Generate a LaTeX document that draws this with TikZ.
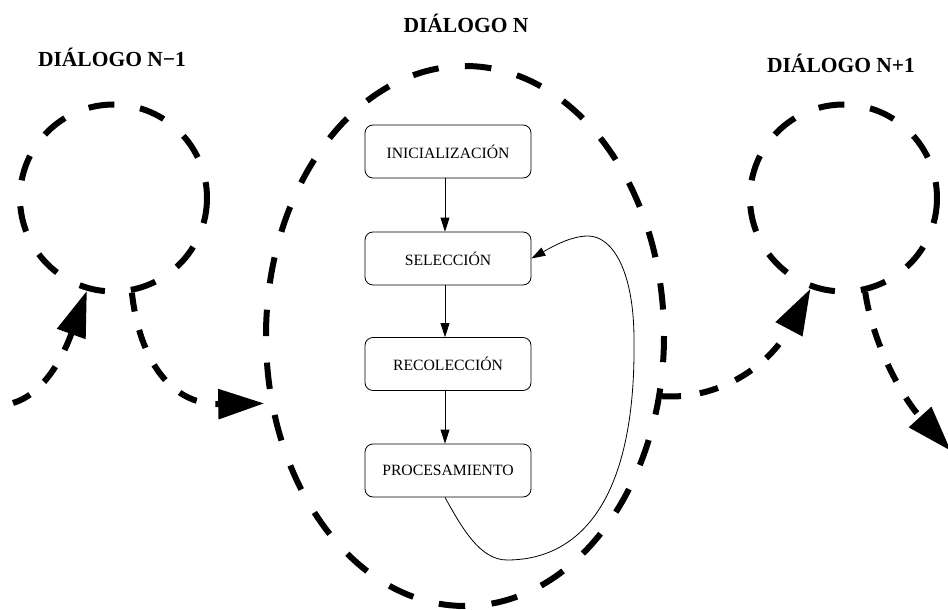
\documentclass[tikz,border=0pt]{standalone}
\usepackage{fontspec}
\setmainfont{Liberation Serif}
\usetikzlibrary{arrows.meta,shapes.geometric}

\begin{document}
\begin{tikzpicture}[x=1pt,y=-1pt,
  title/.style={font=\fontsize{21.5}{25}\selectfont\bfseries, inner sep=0pt, anchor=base},
  stage/.style={draw, rounded corners=8pt, minimum width=166pt, minimum height=53pt,
    inner sep=0pt, line width=0.8pt, font=\fontsize{15.7}{18}\selectfont},
  flow/.style={line width=0.8pt, -{Triangle[length=14pt,width=9pt]}},
  ring/.style={draw, circle, line width=6pt, minimum size=187pt, inner sep=0pt,
    dash pattern=on 26pt off 26pt, dash phase=10pt},
  bigring/.style={draw, ellipse, line width=6pt, minimum width=398pt, minimum height=540pt,
    inner sep=0pt, dash pattern=on 26.47pt off 26.47pt, dash phase=26.47pt},
  handoff/.style={line width=6pt, dash pattern=on 19pt off 19pt,
    -{Triangle[length=46pt,width=29pt]}}
]
\clip (0,0) rectangle (948,610);

% titles
\node[title] (tN)    at (466,33)   {DIÁLOGO N};
\node[title] (tPrev) at (112,66.5) {DIÁLOGO N−1};
\node[title] (tNext) at (841,73)   {DIÁLOGO N+1};

% dialogue rings
\node[ring]    (prev) at (113.5,198) {};
\node[ring]    (next) at (843.5,198) {};
\node[bigring] (cur)  at (465,336)   {};

% stages of the current dialogue
\node[stage] (ini) at (448,151.5) {INICIALIZACIÓN};
\node[stage] (sel) at (448,258.5) {SELECCIÓN};
\node[stage] (rec) at (448,364)   {RECOLECCIÓN};
\node[stage] (pro) at (448,470.5) {PROCESAMIENTO};

\draw[flow] ([xshift=-3pt]ini.south) -- ([xshift=-3pt]sel.north);
\draw[flow] ([xshift=-3pt]sel.south) -- ([xshift=-3pt]rec.north);
\draw[flow] ([xshift=-3pt]rec.south) -- ([xshift=-3pt]pro.north);

% loop back from processing to selection
\draw[flow] ([xshift=-3pt]pro.south) .. controls (462,528) and (480,560) .. (507,560)
  .. controls (580,560) and (636,500) .. (634,340)
  .. controls (634,270) and (612,236) .. (588,236)
  .. controls (570,236) and (550,248) .. (sel.east);

% hand-offs between dialogues
\coordinate (inL)  at (13,403);
\coordinate (outR) at (951,451);
\draw[handoff] (inL) .. controls (40,395) and (60,365) .. (prev.-106);
\draw[handoff] (prev.-79) .. controls (138,350) and (165,405) .. ([xshift=-5pt]cur.-161);
\draw[handoff] (cur.-17) .. controls (720,400) and (770,365) .. (next.-110);
\draw[handoff] (next.-77) .. controls (872,340) and (900,395) .. (outR);
\end{tikzpicture}
\end{document}
